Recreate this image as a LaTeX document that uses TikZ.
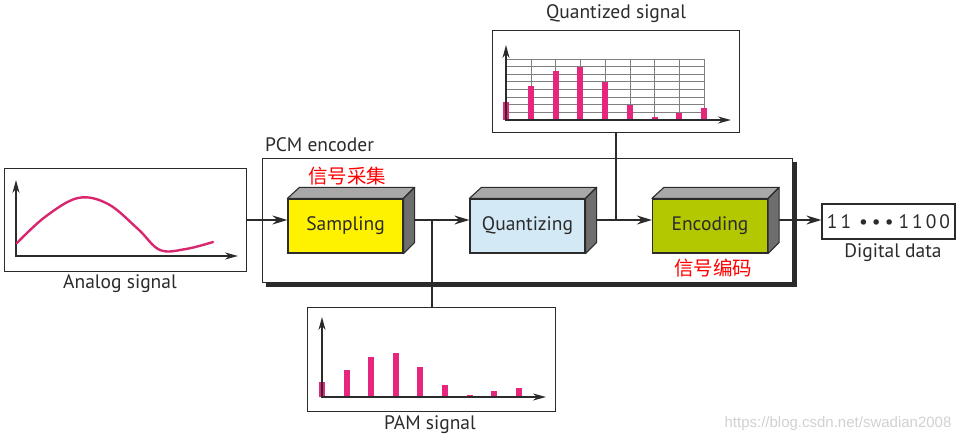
\documentclass[tikz,border=0pt]{standalone}
\usepackage{fontspec}
\setmainfont{PT Sans}
\newfontfamily\cjk{Noto Sans CJK SC}
\newfontfamily\wmfont{Liberation Sans}
\usetikzlibrary{arrows.meta,calc}
\definecolor{pinkbar}{HTML}{E5267C}
\definecolor{curvec}{HTML}{D9276F}
\definecolor{sampY}{HTML}{FFF200}
\definecolor{quantB}{HTML}{D3EAF6}
\definecolor{encG}{HTML}{B3C800}
\definecolor{topgray}{HTML}{A8A8A8}
\definecolor{sidegray}{HTML}{6E6E6E}
\definecolor{ink}{HTML}{2B2B2B}
\newcommand\cubefaces[1]{%
  \filldraw[topgray,draw=ink,line width=1.1pt,line join=round]
    (#1.north west) -- ++(12,-11) -- ($(#1.north east)+(11,-11)$) -- (#1.north east) -- cycle;
  \filldraw[sidegray,draw=ink,line width=1.1pt,line join=round]
    (#1.north east) -- ++(11,-11) -- ($(#1.south east)+(11,-11)$) -- (#1.south east) -- cycle;}
\begin{document}
\begin{tikzpicture}[x=1pt,y=-1pt,
  frame/.style={draw=ink,line width=1.3pt,inner sep=0pt},
  blk/.style={draw=ink,line width=1.2pt,minimum width=115pt,minimum height=54pt,inner sep=0pt,
     font=\fontsize{19.5}{21}\selectfont,text=ink},
  lbl/.style={font=\fontsize{19.5}{21}\selectfont,text=ink,inner sep=0pt},
  redlbl/.style={font=\cjk\fontsize{19.5}{21}\selectfont,text=red,inner sep=0pt},
  conn/.style={line width=1.4pt,draw=ink},
  arr/.style={conn,-{Stealth[length=15pt,width=9pt]}},
  axis/.style={line width=1.3pt,draw=ink,-{Stealth[length=13pt,width=7pt]}},
  bar/.style={fill=pinkbar},
  gridl/.style={draw=black!50,line width=0.8pt}]
\useasboundingbox (0,0) rectangle (967,441);
\fill[white] (0,0) rectangle (967,441);

% ---------- PCM encoder frame with shadow ----------
\fill[ink] (266,162) rectangle (797,287);
\node[frame,fill=white,minimum width=530pt,minimum height=124pt,anchor=north west] (pcm) at (262,158) {};
\node[lbl,anchor=west] (pcmlbl) at (265,145) {PCM encoder};

% ---------- Analog signal ----------
\node[frame,minimum width=242pt,minimum height=103pt,anchor=north west] (ana) at (4,168) {};
\node[lbl] (analbl) at (120,284) {Analog signal};
\coordinate (ao) at (16,256);
\draw[axis] ($(ao)+(0,1)$) -- (16,180);
\draw[axis] ($(ao)+(-1,0)$) -- (238,256);
\draw[curvec,line width=2.4pt,line cap=round] plot[smooth,tension=0.6] coordinates
  {(17,243) (45,217) (78,198) (108,204) (138,229) (160,250) (186,249) (213,242)};

% ---------- Quantized signal ----------
\node[frame,minimum width=247pt,minimum height=102pt,anchor=north west] (qs) at (492,30) {};
\node[lbl] (qslbl) at (616,14) {Quantized signal};
\foreach \k in {0,...,7} {
  \draw[gridl] (506,{59+7.625*\k}) -- (704,{59+7.625*\k});
  \draw[gridl] ({531+24.75*\k},59) -- ({531+24.75*\k},120);
}
\foreach \k/\t in {0/102,1/86,2/71,3/67,4/82,5/105,6/117,7/113,8/108}
  \fill[bar] ({506+24.75*\k-3},120) rectangle ({506+24.75*\k+3},\t);
\draw[axis] (506,121) -- (506,45);
\draw[axis] (505,120) -- (731,120);

% ---------- PAM signal ----------
\node[frame,minimum width=248pt,minimum height=104pt,anchor=north west] (pam) at (307,307) {};
\node[lbl] (pamlbl) at (430,425) {PAM signal};
\foreach \k/\t in {0/382,1/370,2/357,3/353,4/367,5/385,6/395,7/391,8/388}
  \fill[bar] ({322+24.6*\k-3},397) rectangle ({322+24.6*\k+3},\t);
\draw[axis] (322,398) -- (322,317);
\draw[axis] (321,397) -- (546,397);

% ---------- Digital data ----------
\node[frame,line width=1.2pt,minimum width=133pt,minimum height=35pt,font=\fontsize{19.5}{21}\selectfont,text=ink]
  (dig) at (888.5,221.5) {1\hspace{3pt}1\hspace{8pt}•\hspace{4pt}•\hspace{4pt}•\hspace{5pt}1\hspace{3pt}1\hspace{3pt}0\hspace{3pt}0};
\node[lbl] (diglbl) at (893,253) {Digital data};

% ---------- blocks (front faces) ----------
\node[blk,fill=sampY] (samp) at (345.5,226) {Sampling};
\node[blk,fill=quantB] (quant) at (527.5,226) {Quantizing};
\node[blk,fill=encG] (enc) at (710,226) {Encoding};

% ---------- connectors ----------
\coordinate (ml) at (0,220);
\coordinate (b1) at (432,220);
\coordinate (b2) at (616,220);
\draw[arr] (ana.east |- ml) -- (samp.west |- ml);
\draw[conn] ($(samp.east |- ml)+(6,0)$) -- (b1);
\draw[arr] (b1) -- (quant.west |- ml);
\draw[conn] (b1) -- (b1 |- pam.north);
\draw[conn] ($(quant.east |- ml)+(6,0)$) -- (b2);
\draw[arr] (b2) -- (enc.west |- ml);
\draw[conn] (b2) -- (b2 |- qs.south);
\draw[arr] ($(enc.east |- ml)+(6,0)$) -- (dig.west |- ml);

% ---------- 3D faces ----------
\cubefaces{samp}
\cubefaces{quant}
\cubefaces{enc}

% ---------- red annotations ----------
\node[redlbl] (cn1) at (347,176) {信号采集};
\node[redlbl] (cn2) at (713,268) {信号编码};

% ---------- watermark ----------
\node[font=\wmfont\fontsize{15}{17}\selectfont,text=black!18,inner sep=0pt] (wm) at (838,424) {https://blog.csdn.net/swadian2008};
\end{tikzpicture}
\end{document}
